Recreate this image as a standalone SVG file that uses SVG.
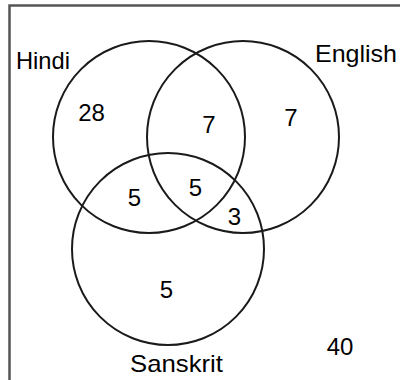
<svg xmlns="http://www.w3.org/2000/svg" width="400" height="380" viewBox="0 0 400 380">
<style>
.c{fill:none;stroke:#1a1a1a;stroke-width:2}
.t{font-family:"Liberation Sans",Arial,sans-serif;font-size:24px;fill:#000}
.n{font-family:"Liberation Sans",Arial,sans-serif;font-size:24px;fill:#000;text-anchor:middle}
</style>
<rect width="400" height="380" fill="#fff"/>
<path d="M9.5,380 V5.5 H400" fill="none" stroke="#555" stroke-width="2.5"/>
<g id="hindi"><circle class="c" cx="149" cy="137" r="96"/><text class="t" x="16" y="69" textLength="54" lengthAdjust="spacingAndGlyphs">Hindi</text></g>
<g id="english"><circle class="c" cx="243" cy="137" r="96"/><text class="t" x="315" y="62" textLength="82" lengthAdjust="spacingAndGlyphs">English</text></g>
<g id="sanskrit"><circle class="c" cx="168" cy="249" r="96"/><text class="t" x="130" y="372" textLength="93" lengthAdjust="spacingAndGlyphs">Sanskrit</text></g>
<g id="counts">
<text class="n" x="91.5" y="121">28</text>
<text class="n" x="209" y="133">7</text>
<text class="n" x="291" y="126">7</text>
<text class="n" x="134.5" y="206">5</text>
<text class="n" x="195.5" y="196">5</text>
<text class="n" x="234.5" y="225">3</text>
<text class="n" x="166.5" y="298">5</text>
<text class="n" x="340" y="355">40</text>
</g>
</svg>
